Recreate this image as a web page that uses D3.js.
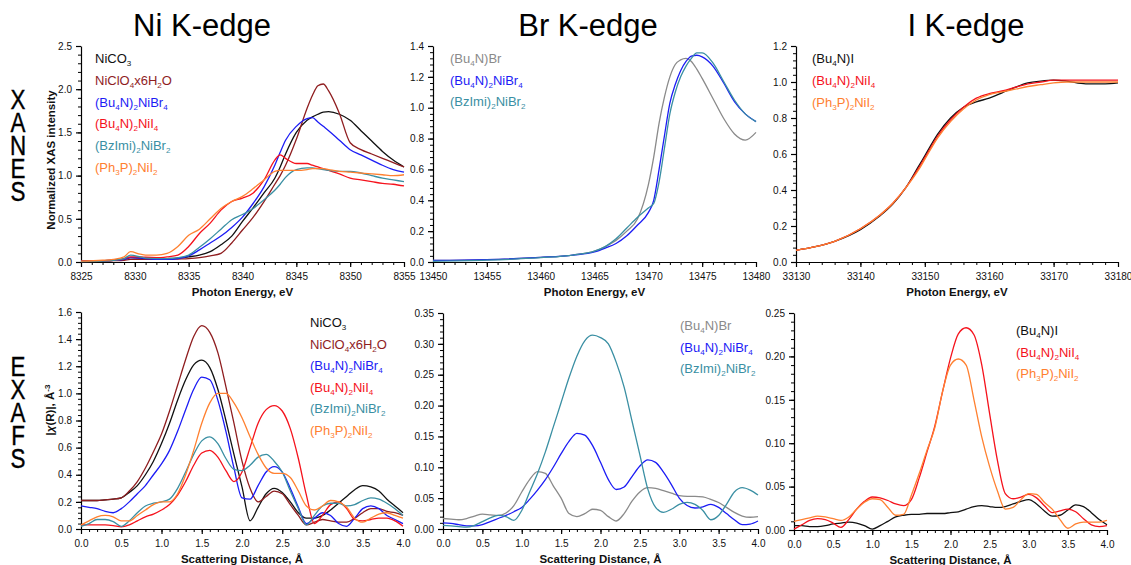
<!DOCTYPE html>
<html><head><meta charset="utf-8">
<script src="https://cdn.jsdelivr.net/npm/d3@7"></script>
<style>
body{margin:0;background:#fff;}
svg{display:block;font-family:"Liberation Sans",Arial,sans-serif;}
</style></head>
<body>
<svg id="chart" width="1131" height="565"></svg>
<script>
// ---------------- DATA ----------------
// Ni K-edge XANES
const niXanesE = [8325,8327,8328,8329,8329.6,8330.5,8331,8332,8333,8334,8335,8336,8337,8338,8339,8340,8341,8342,8343,8343.5,8344,8345,8346,8346.5,8347,8347.5,8348,8349,8350,8351,8352,8353,8354,8355];
const niXanes_NiCO3   = [0.01,0.015,0.02,0.03,0.05,0.045,0.04,0.035,0.04,0.045,0.06,0.08,0.12,0.2,0.3,0.47,0.63,0.8,0.97,1.1,1.25,1.5,1.64,1.68,1.71,1.735,1.74,1.71,1.64,1.52,1.4,1.28,1.18,1.1];
const niXanes_NiClO4  = [0.005,0.01,0.015,0.02,0.03,0.03,0.03,0.03,0.03,0.035,0.04,0.05,0.07,0.1,0.22,0.37,0.52,0.7,0.9,1.0,1.12,1.42,1.78,1.93,2.04,2.06,1.98,1.72,1.38,1.3,1.25,1.2,1.15,1.1];
const niXanes_NiBr4   = [0.01,0.015,0.02,0.03,0.05,0.045,0.04,0.03,0.03,0.04,0.07,0.14,0.22,0.3,0.4,0.52,0.68,0.87,1.12,1.27,1.41,1.57,1.66,1.67,1.62,1.57,1.52,1.41,1.3,1.24,1.18,1.12,1.07,1.04];
const niXanes_NiI4    = [0.01,0.015,0.02,0.04,0.06,0.06,0.055,0.05,0.06,0.08,0.18,0.33,0.45,0.6,0.7,0.74,0.8,0.95,1.18,1.24,1.2,1.14,1.14,1.12,1.1,1.08,1.06,1.02,0.97,0.95,0.93,0.91,0.9,0.88];
const niXanes_BzImi   = [0.005,0.01,0.02,0.04,0.08,0.06,0.045,0.04,0.04,0.05,0.08,0.17,0.27,0.38,0.49,0.55,0.62,0.72,0.83,0.9,0.98,1.07,1.09,1.09,1.08,1.07,1.06,1.05,1.05,1.03,1.0,0.97,0.95,0.93];
const niXanes_PPh3    = [0.01,0.02,0.03,0.06,0.12,0.09,0.08,0.08,0.1,0.18,0.31,0.38,0.5,0.62,0.7,0.76,0.85,0.95,1.05,1.06,1.06,1.06,1.07,1.08,1.08,1.08,1.07,1.05,1.04,1.03,1.02,1.01,1.0,1.01];

// Br K-edge XANES
const brXanesE = [13450,13455,13460,13463,13465,13466,13467,13468,13469,13470,13470.5,13471,13471.5,13472,13472.5,13473,13473.5,13474,13474.5,13475,13476,13477,13478,13479,13480];
const brXanes_Bu4NBr  = [0.01,0.015,0.03,0.045,0.07,0.1,0.14,0.2,0.28,0.5,0.68,0.9,1.07,1.2,1.28,1.31,1.32,1.3,1.25,1.19,1.06,0.93,0.83,0.79,0.84];
const brXanes_NiBr4   = [0.01,0.015,0.03,0.045,0.065,0.09,0.12,0.17,0.24,0.32,0.4,0.6,0.82,1.03,1.15,1.24,1.3,1.335,1.34,1.33,1.27,1.16,1.04,0.96,0.91];
const brXanes_BzImi   = [0.005,0.012,0.028,0.045,0.07,0.1,0.15,0.22,0.29,0.35,0.38,0.52,0.74,0.96,1.1,1.2,1.27,1.32,1.355,1.355,1.29,1.17,1.05,0.96,0.91];

// I K-edge XANES
const iXanesE = [33130,33133,33136,33140,33143,33145,33147,33149,33150,33152,33154,33156,33158,33160,33162,33164,33166,33168,33170,33172,33175,33178,33180];
const iXanes_Bu4NI   = [0.065,0.085,0.115,0.18,0.255,0.32,0.41,0.53,0.59,0.71,0.8,0.86,0.89,0.91,0.94,0.97,0.995,1.005,1.01,1.005,0.99,0.99,0.995];
const iXanes_NiI4    = [0.065,0.085,0.115,0.185,0.26,0.325,0.41,0.52,0.58,0.7,0.79,0.86,0.91,0.935,0.95,0.97,0.99,1.0,1.01,1.01,1.01,1.01,1.01];
const iXanes_PPh3    = [0.065,0.085,0.115,0.185,0.26,0.325,0.41,0.51,0.57,0.69,0.78,0.85,0.9,0.93,0.945,0.96,0.975,0.985,0.995,1.0,1.0,1.0,1.0];

// EXAFS distance grid (Å)
const exafsR = [0.0,0.1,0.2,0.3,0.4,0.5,0.6,0.7,0.8,0.9,1.0,1.1,1.2,1.3,1.4,1.5,1.6,1.7,1.8,1.9,2.0,2.1,2.2,2.3,2.4,2.5,2.6,2.7,2.8,2.9,3.0,3.1,3.2,3.3,3.4,3.5,3.6,3.7,3.8,3.9,4.0];
// Ni K-edge EXAFS
const niExafs_NiCO3  = [.21,.21,.21,.215,.22,.23,.27,.32,.40,.50,.63,.78,.95,1.1,1.21,1.245,1.19,1.03,.8,.55,.31,.06,.16,.26,.30,.27,.2,.12,.08,.08,.1,.14,.19,.24,.29,.32,.31,.28,.22,.17,.12];
const niExafs_NiClO4 = [.21,.21,.21,.215,.22,.23,.28,.35,.45,.57,.70,.87,1.06,1.25,1.42,1.5,1.45,1.3,1.05,.78,.5,.3,.2,.24,.28,.26,.18,.1,.03,.05,.07,.06,.05,.05,.08,.12,.15,.15,.13,.12,.1];
const niExafs_NiBr4  = [.17,.16,.15,.13,.12,.15,.2,.26,.32,.4,.48,.58,.72,.88,1.03,1.12,1.1,.95,.72,.45,.23,.22,.32,.42,.46,.42,.3,.16,.04,.08,.12,.1,.04,.02,.08,.15,.17,.15,.1,.07,.04];
const niExafs_NiI4   = [.03,.03,.03,.03,.025,.015,.03,.06,.09,.11,.14,.18,.25,.35,.47,.56,.58,.53,.43,.35,.42,.6,.78,.88,.91,.87,.74,.52,.25,.04,.1,.18,.2,.15,.07,.06,.07,.08,.08,.06,.02];
const niExafs_BzImi  = [.02,.04,.07,.07,.055,.02,.06,.12,.17,.19,.2,.22,.3,.42,.55,.65,.68,.63,.52,.44,.43,.47,.53,.55,.5,.42,.28,.15,.03,.1,.17,.19,.19,.17,.18,.21,.23,.22,.19,.15,.1];
const niExafs_PPh3   = [.03,.06,.09,.1,.09,.06,.06,.1,.14,.18,.2,.2,.26,.4,.58,.78,.93,1.0,1.0,.93,.82,.68,.55,.45,.41,.41,.38,.28,.17,.14,.17,.21,.2,.16,.08,.05,.08,.11,.12,.1,.08];
// Br K-edge EXAFS
const brExafs_Bu4NBr = [.017,.016,.015,.017,.021,.024,.023,.022,.026,.038,.06,.08,.093,.09,.07,.05,.025,.02,.025,.032,.03,.02,.013,.025,.045,.06,.067,.066,.062,.058,.054,.053,.053,.052,.048,.043,.035,.027,.021,.019,.02];
const brExafs_NiBr4  = [.01,.009,.007,.005,.005,.007,.012,.017,.022,.028,.035,.048,.063,.08,.1,.122,.142,.155,.152,.135,.108,.08,.064,.068,.085,.102,.112,.108,.092,.072,.05,.038,.034,.036,.04,.035,.025,.015,.007,.008,.013];
const brExafs_BzImi  = [.006,.005,.004,.003,.006,.012,.018,.022,.02,.014,.03,.06,.09,.125,.165,.205,.245,.28,.305,.314,.31,.3,.27,.23,.175,.12,.065,.035,.027,.032,.04,.043,.04,.03,.015,.022,.04,.06,.067,.063,.055];
// I K-edge EXAFS
const iExafs_Bu4NI   = [.005,.005,.004,.004,.005,.007,.008,.009,.008,.005,.001,.005,.01,.015,.017,.018,.018,.019,.019,.019,.02,.021,.024,.027,.028,.027,.026,.027,.03,.033,.035,.03,.022,.016,.017,.023,.029,.027,.02,.012,.006];
const iExafs_NiI4    = [.001,.006,.011,.013,.012,.008,.003,.012,.024,.033,.038,.037,.034,.03,.028,.035,.06,.09,.12,.16,.198,.226,.233,.225,.19,.134,.08,.042,.036,.038,.041,.037,.028,.02,.022,.024,.021,.013,.006,.004,.005];
const iExafs_PPh3    = [.01,.012,.014,.016,.015,.013,.011,.015,.024,.032,.036,.035,.026,.017,.018,.04,.065,.092,.118,.16,.19,.197,.19,.15,.107,.073,.045,.024,.026,.035,.042,.041,.032,.024,.012,.002,.007,.009,.009,.009,.011];

// Labels
const edgeTitles = ["Ni K-edge","Br K-edge","I K-edge"];
const rowLabels = ["XANES","EXAFS"];
const xanesXTitle = "Photon Energy, eV";
const exafsXTitle = "Scattering Distance, Å";
const xanesYTitle = "Normalized XAS intensity";
const niNames = ["NiCO_3","NiClO_4x6H_2O","(Bu_4N)_2NiBr_4","(Bu_4N)_2NiI_4","(BzImi)_2NiBr_2","(Ph_3P)_2NiI_2"];
const brNames = ["(Bu_4N)Br","(Bu_4N)_2NiBr_4","(BzImi)_2NiBr_2"];
const iNames  = ["(Bu_4N)I","(Bu_4N)_2NiI_4","(Ph_3P)_2NiI_2"];

// Colours
const C = {black:"#111111", dred:"#8f1d1f", blue:"#1c1cf5", red:"#f5121c", teal:"#3a8fa3", orange:"#ff8030", gray:"#8a8a8a"};
const niColors = [C.black,C.dred,C.blue,C.red,C.teal,C.orange];
const brColors = [C.gray,C.blue,C.teal];
const iColors  = [C.black,C.red,C.orange];

// ---------------- PANELS ----------------
const panels = [
  {box:[81,404,46,262], xd:[8325,8355], yd:[0,2.5], xmaj:5, xmin:1, ymaj:0.5, ymin:0.1, xf:d3.format("d"), yf:d3.format(".1f"),
   x:niXanesE, ys:[niXanes_NiCO3,niXanes_NiClO4,niXanes_NiBr4,niXanes_NiI4,niXanes_BzImi,niXanes_PPh3], names:niNames, cols:niColors,
   leg:[95,63,21.8], xtitle:xanesXTitle},
  {box:[433,756,46,262], xd:[13450,13480], yd:[0,1.4], xmaj:5, xmin:1, ymaj:0.2, ymin:0.04, xf:d3.format("d"), yf:d3.format(".1f"),
   x:brXanesE, ys:[brXanes_Bu4NBr,brXanes_NiBr4,brXanes_BzImi], names:brNames, cols:brColors,
   leg:[450,63,21.5], xtitle:xanesXTitle},
  {box:[796,1118,46,262], xd:[33130,33180], yd:[0,1.2], xmaj:10, xmin:2, ymaj:0.2, ymin:0.04, xf:d3.format("d"), yf:d3.format(".1f"),
   x:iXanesE, ys:[iXanes_Bu4NI,iXanes_NiI4,iXanes_PPh3], names:iNames, cols:iColors,
   leg:[812,63,21.8], xtitle:xanesXTitle},
  {box:[81,403,312,529], xd:[0,4], yd:[0,1.6], xmaj:0.5, xmin:0.1, ymaj:0.2, ymin:0.04, xf:d3.format(".1f"), yf:d3.format(".1f"),
   x:exafsR, ys:[niExafs_NiCO3,niExafs_NiClO4,niExafs_NiBr4,niExafs_NiI4,niExafs_BzImi,niExafs_PPh3], names:niNames, cols:niColors,
   leg:[310,327,21.6], xtitle:exafsXTitle},
  {box:[443,758,313,529], xd:[0,4], yd:[0,0.35], xmaj:0.5, xmin:0.1, ymaj:0.05, ymin:0.01, xf:d3.format(".1f"), yf:d3.format(".2f"),
   x:exafsR, ys:[brExafs_Bu4NBr,brExafs_NiBr4,brExafs_BzImi], names:brNames, cols:brColors,
   leg:[680,330,21.5], xtitle:exafsXTitle},
  {box:[794,1107,313,530], xd:[0,4], yd:[0,0.25], xmaj:0.5, xmin:0.1, ymaj:0.05, ymin:0.01, xf:d3.format(".1f"), yf:d3.format(".2f"),
   x:exafsR, ys:[iExafs_Bu4NI,iExafs_NiI4,iExafs_PPh3], names:iNames, cols:iColors,
   leg:[1016,335,21.5], xtitle:exafsXTitle}
];

const svg = d3.select("#chart");

function ticksFor(d, step){
  const out=[]; const n=Math.round((d[1]-d[0])/step);
  for(let i=0;i<=n;i++) out.push(+(d[0]+i*step).toFixed(6));
  return out;
}

function addLabel(g, txt, x, y, color, size){
  const t = g.append("text").attr("x",x).attr("y",y).attr("fill",color).style("font-size",size+"px");
  const parts = txt.split(/(_\d)/).filter(s=>s);
  let pendingUp = false;
  parts.forEach(p=>{
    if(p[0]==="_"){
      t.append("tspan").attr("dy",3).style("font-size",(size*0.62)+"px").text(p.slice(1));
      pendingUp = true;
    } else {
      const ts = t.append("tspan").style("font-size",size+"px").text(p);
      if(pendingUp){ ts.attr("dy",-3); pendingUp=false; }
    }
  });
}

panels.forEach(p=>{
  const [L,R,T,B] = p.box;
  const x = d3.scaleLinear().domain(p.xd).range([L,R]);
  const y = d3.scaleLinear().domain(p.yd).range([B,T]);
  const g = svg.append("g");

  // minor ticks
  g.append("g").attr("transform",`translate(0,${B})`)
    .call(d3.axisBottom(x).tickValues(ticksFor(p.xd,p.xmin)).tickSize(3).tickFormat(""))
    .call(a=>{a.select(".domain").remove(); a.selectAll("text").remove(); a.selectAll("line").attr("stroke","#000");});
  g.append("g").attr("transform",`translate(${L},0)`)
    .call(d3.axisLeft(y).tickValues(ticksFor(p.yd,p.ymin)).tickSize(3).tickFormat(""))
    .call(a=>{a.select(".domain").remove(); a.selectAll("text").remove(); a.selectAll("line").attr("stroke","#000");});
  // major axes
  const xa = g.append("g").attr("transform",`translate(0,${B})`)
    .call(d3.axisBottom(x).tickValues(ticksFor(p.xd,p.xmaj)).tickSize(5).tickSizeOuter(0).tickPadding(6).tickFormat(p.xf));
  const ya = g.append("g").attr("transform",`translate(${L},0)`)
    .call(d3.axisLeft(y).tickValues(ticksFor(p.yd,p.ymaj)).tickSize(5).tickSizeOuter(0).tickPadding(4).tickFormat(p.yf));
  [xa,ya].forEach(a=>{
    a.attr("font-size",null).attr("font-family",null);
    a.selectAll("text").style("font-size","10px").attr("fill","#111");
    a.selectAll("line,path").attr("stroke","#000").attr("stroke-width",1.2);
  });

  // lines
  const line = d3.line().x((d,i)=>x(p.x[i])).y(d=>y(d)).curve(d3.curveMonotoneX);
  p.ys.forEach((ys,k)=>{
    g.append("path").attr("d",line(ys)).attr("fill","none").attr("stroke",p.cols[k]).attr("stroke-width",1.3);
  });

  // legend
  p.names.forEach((n,k)=> addLabel(g, n, p.leg[0], p.leg[1]+k*p.leg[2], p.cols[k], 13));

  // x title
  g.append("text").attr("x",(L+R)/2).attr("y",B+34).attr("text-anchor","middle")
    .style("font-size","11.5px").style("font-weight","bold").attr("fill","#111").text(p.xtitle);
});

// Titles
const titleX = [202,588,966];
edgeTitles.forEach((t,i)=>{
  svg.append("text").attr("x",titleX[i]).attr("y",36).attr("text-anchor","middle")
    .style("font-size","31px").attr("fill","#000").text(t);
});

// Row labels: stacked upright letters in a single vertical text
function stacked(word, top){
  svg.append("text").attr("transform",`translate(18,${top}) scale(0.8,1)`)
    .attr("x",0).attr("y",0)
    .style("writing-mode","vertical-rl").style("text-orientation","upright")
    .style("letter-spacing","-8px")
    .style("font-size","28px").attr("fill","#000").attr("stroke","#000").attr("stroke-width",0.4)
    .text(word);
}
stacked(rowLabels[0], 84);
stacked(rowLabels[1], 351);

// Y axis titles
svg.append("text").attr("transform","translate(55,160) rotate(-90)").attr("text-anchor","middle")
  .style("font-size","11.5px").style("font-weight","bold").attr("fill","#111").text(xanesYTitle);
const yl = svg.append("text").attr("transform","translate(54,410) rotate(-90)").attr("text-anchor","middle")
  .style("font-size","11.5px").style("font-weight","bold").attr("fill","#111");
yl.append("tspan").style("font-size","11.5px").text("|");
yl.append("tspan").style("font-size","11.5px").style("font-style","italic").text("χ");
yl.append("tspan").style("font-size","11.5px").text("(R)|,  Å");
yl.append("tspan").attr("dy",-4).style("font-size","8px").text("-3");
</script>
</body></html>
